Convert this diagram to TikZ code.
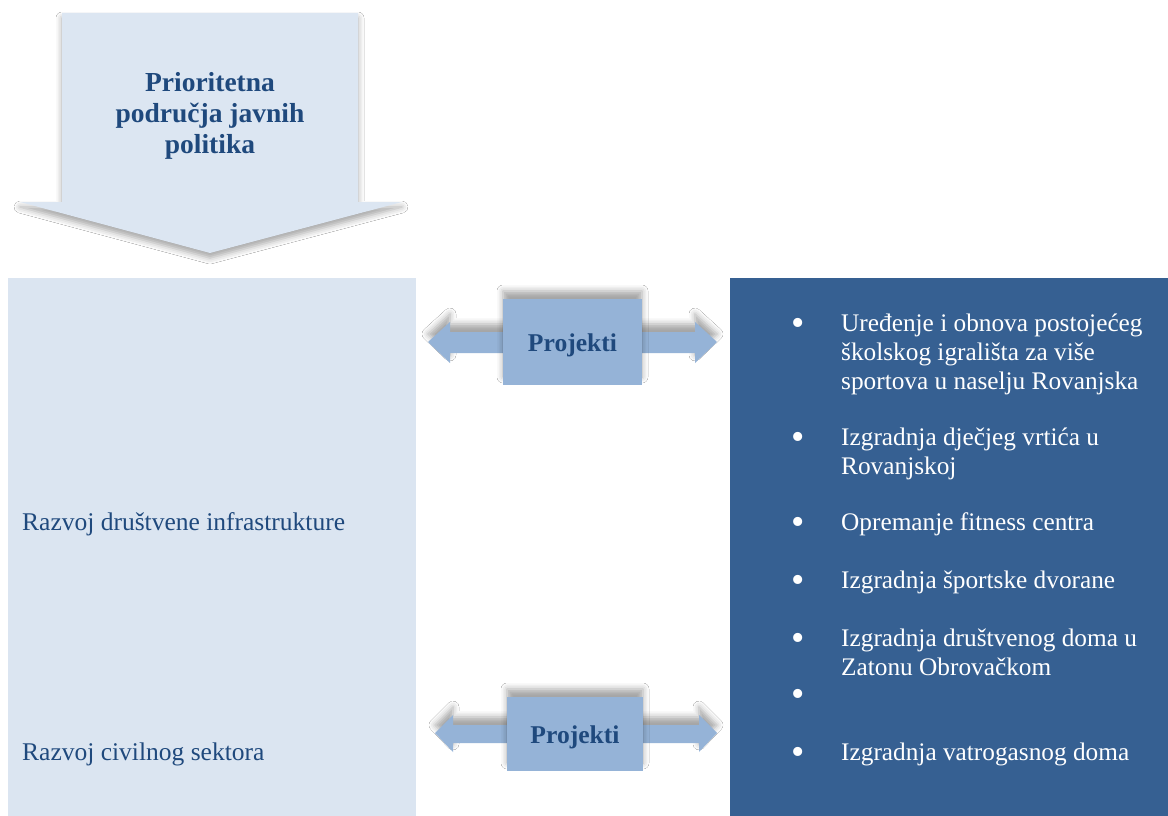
\documentclass[tikz,border=0pt]{standalone}
\usepackage{fontspec}
\setmainfont{Liberation Serif}
\usetikzlibrary{shadows.blur}
\definecolor{lightbg}{HTML}{DBE5F1}
\definecolor{arrowbg}{HTML}{DCE6F2}
\definecolor{darkbg}{HTML}{366092}
\definecolor{midblue}{HTML}{95B3D7}
\definecolor{txtblue}{HTML}{1F497D}
\begin{document}
\begin{tikzpicture}[x=1pt,y=-1pt,
  titletext/.style={font=\fontsize{27.5}{30}\selectfont\bfseries, text=txtblue, inner sep=0pt, anchor=base},
  projtext/.style={font=\fontsize{25.6}{30}\selectfont\bfseries, text=txtblue, inner sep=0pt, anchor=base},
  lefttext/.style={font=\fontsize{25.5}{29}\selectfont, text=txtblue, inner sep=0pt, anchor=base west},
  listtext/.style={font=\fontsize{25.3}{29}\selectfont, text=white, inner sep=0pt, anchor=base west},
  bullettext/.style={font=\fontsize{38}{40}\selectfont, text=white, inner sep=0pt, anchor=base},
  softshadow/.style={blur shadow={shadow xshift=0pt, shadow yshift=#1, shadow blur radius=6pt, shadow opacity=35}},
]
\useasboundingbox (0,0) rectangle (1168,816);
\fill[white] (0,0) rectangle (1168,816);

% top arrow
\fill[arrowbg, softshadow=-5pt] (62,13) -- (358,13) -- (358,202) -- (402,202) -- (210,253) -- (20,202) -- (62,202) -- cycle;
\node[titletext] (t1) at (210,92) {Prioritetna};
\node[titletext] (t2) at (210,122) {područja javnih};
\node[titletext] (t3) at (210,153) {politika};

% left and right panels
\fill[lightbg] (8,278) rectangle (416,816);
\fill[darkbg] (730,278) rectangle (1168,816);

% Projekti arrow 1
\fill[midblue, softshadow=8pt] (428,342) -- (450,322) -- (450,332) -- (695,332) -- (695,322) -- (717,342) -- (695,363) -- (695,353) -- (450,353) -- (450,363) -- cycle;
\fill[midblue, softshadow=8pt] (503,299) rectangle (642,385);
\node[projtext] (p1) at (572.5,351) {Projekti};

% Projekti arrow 2
\fill[midblue, softshadow=8pt] (435,733) -- (453,715) -- (453,725) -- (699,725) -- (699,715) -- (717,733) -- (699,752) -- (699,743) -- (453,743) -- (453,752) -- cycle;
\fill[midblue, softshadow=8pt] (507,697) rectangle (643,771);
\node[projtext] (p2) at (575,743) {Projekti};

% left texts
\node[lefttext] (l1) at (22,530) {Razvoj društvene infrastrukture};
\node[lefttext] (l2) at (22,760) {Razvoj civilnog sektora};

% right list
\foreach \y [count=\i] in {331,445,530,588,646,702,760}
  \node[bullettext] (b\i) at (798,\y+4) {•};
\node[listtext] (r1a) at (841,331) {Uređenje i obnova postojećeg};
\node[listtext] (r1b) at (841,360) {školskog igrališta za više};
\node[listtext] (r1c) at (841,389) {sportova u naselju Rovanjska};
\node[listtext] (r2a) at (841,445) {Izgradnja dječjeg vrtića u};
\node[listtext] (r2b) at (841,474) {Rovanjskoj};
\node[listtext] (r3) at (841,530) {Opremanje fitness centra};
\node[listtext] (r4) at (841,588) {Izgradnja športske dvorane};
\node[listtext] (r5a) at (841,646) {Izgradnja društvenog doma u};
\node[listtext] (r5b) at (841,675) {Zatonu Obrovačkom};
\node[listtext] (r7) at (841,760) {Izgradnja vatrogasnog doma};
\end{tikzpicture}
\end{document}
